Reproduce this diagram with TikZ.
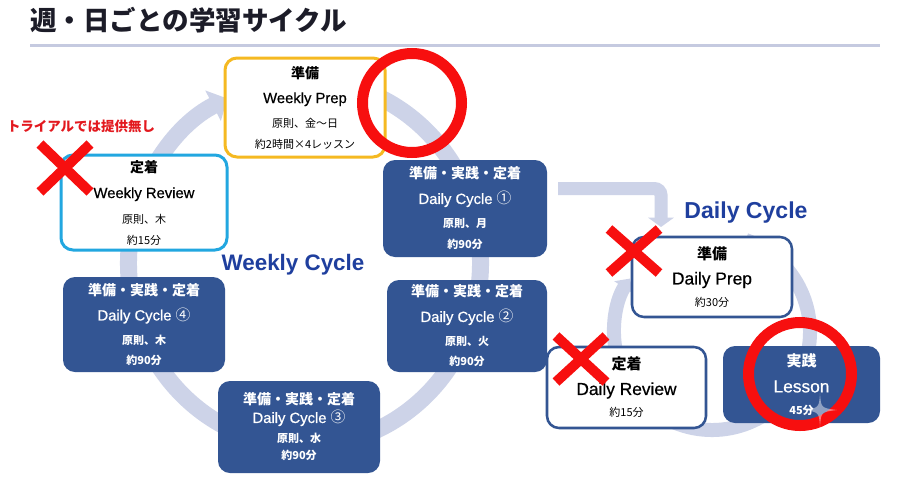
\documentclass[tikz,border=0pt]{standalone}
\usepackage{fontspec}
\setmainfont{Noto Sans CJK JP}
\newfontfamily\latinfont{Liberation Sans}
\newfontfamily\latinmed{Liberation Sans}[FakeBold=0.6]
\newfontfamily\cjkmain{Noto Sans CJK JP}
\usetikzlibrary{arrows.meta}
\definecolor{navy}{HTML}{335593}
\definecolor{prepyellow}{HTML}{F5B921}
\definecolor{revcyan}{HTML}{22A7E0}
\definecolor{ringgray}{HTML}{CDD3E8}
\definecolor{rulegray}{HTML}{C5CAE0}
\definecolor{crossred}{HTML}{F70F0F}
\definecolor{labelblue}{HTML}{1F3F9E}
\definecolor{trialred}{HTML}{E3191F}
\definecolor{titleink}{HTML}{1C1C28}
\newcommand{\cardhead}{\fontsize{10.5}{12}\selectfont\bfseries}
\newcommand{\cardname}{\latinmed\fontsize{11.1}{13}\selectfont}
\newcommand{\cardnote}{\fontsize{8.25}{10}\selectfont}
\newcommand{\bignote}{\fontsize{8.25}{10}\selectfont\bfseries}
\newcommand{\dhead}{\fontsize{11.25}{13}\selectfont\bfseries}
\newcommand{\dname}{\latinmed\fontsize{13}{15}\selectfont}
\begin{document}
\begin{tikzpicture}[x=0.75pt,y=-0.75pt]
\tikzstyle{every node}+=[inner sep=0pt]
\tikzstyle{card}=[rounded corners=9pt, align=center, font=\fontsize{8.25}{18}\selectfont]
\tikzstyle{wprepbox}=[card, draw=prepyellow, line width=2.25pt, fill=white]
\tikzstyle{wrevbox}=[card, draw=revcyan, line width=2.25pt, fill=white]
\tikzstyle{dcbox}=[card, fill=navy, text=white]
\tikzstyle{dbox}=[card, draw=navy, line width=1.9pt, fill=white]
\tikzstyle{ring}=[draw=ringgray, line width=12.75pt, -{Triangle[length=12pt,width=25pt]}]
\tikzstyle{dring}=[draw=ringgray, line width=10.5pt, -{Triangle[length=8pt,width=17pt]}]
\tikzstyle{flow}=[draw=ringgray, line width=9.75pt, rounded corners=5pt, -{Triangle[length=7pt,width=19pt]}]
\tikzstyle{cross}=[draw=crossred, line width=7.5pt]
\tikzstyle{okring}=[draw=crossred, line width=8.25pt]
\fill [white] (0,0) rectangle (899,482);
\useasboundingbox (0,0) rectangle (899,482);
\node [anchor=west, text=titleink, font=\fontsize{19.9}{22}\selectfont\bfseries] (title) at (30,20) {週・日ごとの学習サイクル};
\draw [rulegray, line width=2.25pt] (30,45) -- (880,45);
\coordinate (wc) at (304.5,263);
\coordinate (dc) at (712,332);
\draw [ring] (wc) ++(-80:176 and 183) arc [start angle=-80, end angle=244, x radius=176, y radius=183];
\draw [dring] (dc) ++(-70:98) arc [start angle=-70, end angle=213, radius=98];
\coordinate (lstart) at (558,188.5);
\coordinate (lend) at (661,227);
\draw [flow] (lstart) -| (lend);
\node [wprepbox, minimum width=120pt, minimum height=74.25pt] (wprep) at (305,107.5) {\cardhead 準備\\[0.75pt]\cardname Weekly Prep\\\cardnote 原則、金〜日\\[-2.25pt]\cardnote 約2時間×4レッスン};
\node [wrevbox, minimum width=124.5pt, minimum height=71.25pt] (wrev) at (144,202.5) {\cardhead 定着\\[1.5pt]\cardname Weekly Review\\[0.75pt]\cardnote 原則、木\\[-2.25pt]\cardnote 約15分};
\node [dcbox, minimum width=123pt, minimum height=72.75pt] (dc1) at (465,208.5) {\cardhead 準備・実践・定着\\[0.75pt]\cardname Daily Cycle {\cjkmain ①}\\\bignote 原則、月\\[-2.25pt]\bignote 約90分};
\node [dcbox, minimum width=120pt, minimum height=69pt] (dc2) at (467,326) {\cardhead 準備・実践・定着\\[0.75pt]\cardname Daily Cycle {\cjkmain ②}\\\bignote 原則、火\\[-3pt]\bignote 約90分};
\node [dcbox, minimum width=121.5pt, minimum height=69pt] (dc3) at (299,427) {\cardhead 準備・実践・定着\\[-4.5pt]\cardname Daily Cycle {\cjkmain ③}\\[-3pt]\bignote 原則、水\\[-5.25pt]\bignote 約90分};
\node [dcbox, minimum width=121.5pt, minimum height=71.25pt] (dc4) at (144,324.5) {\cardhead 準備・実践・定着\\[0.75pt]\cardname Daily Cycle {\cjkmain ④}\\\bignote 原則、木\\[-3pt]\bignote 約90分};
\node [dbox, minimum width=120pt, minimum height=60pt] (dprep) at (712,277) {\dhead 準備\\[0.75pt]\dname Daily Prep\\[-1.5pt]\cardnote 約30分};
\node [dbox, minimum width=119.25pt, minimum height=60.75pt] (drev) at (626.5,387.5) {\dhead 定着\\[0.75pt]\dname Daily Review\\[-1.5pt]\cardnote 約15分};
\node [dcbox, minimum width=117.75pt, minimum height=57.75pt] (lesson) at (801.5,384.5) {\dhead 実践\\[1.5pt]\dname Lesson\\[-1.5pt]\bignote 45分};
\node [text=labelblue, font=\latinfont\fontsize{16.8}{19}\selectfont\bfseries] (wlabel) at (293,265) {Weekly Cycle};
\node [text=labelblue, font=\latinfont\fontsize{17.3}{20}\selectfont\bfseries] (dlabel) at (746,213) {Daily Cycle};
\node [text=trialred, font=\fontsize{10.1}{12}\selectfont\bfseries] (trial) at (81,126) {トライアルでは提供無し};
\draw [okring] (412,103) circle (49.5);
\draw [okring] (800,374) circle (51.5);
\fill [white, opacity=0.45] (820,393) .. controls (821,408) .. (837,410) .. controls (821,412) .. (820,427) .. controls (819,412) .. (803,410) .. controls (819,408) .. (820,393) -- cycle;
\draw [cross] (40,144) -- (90,192);
\draw [cross] (40,192) -- (90,144);
\draw [cross] (609,229) -- (659,273);
\draw [cross] (609,273) -- (659,229);
\draw [cross] (556,336) -- (606,382);
\draw [cross] (556,382) -- (606,336);
\end{tikzpicture}
\end{document}
